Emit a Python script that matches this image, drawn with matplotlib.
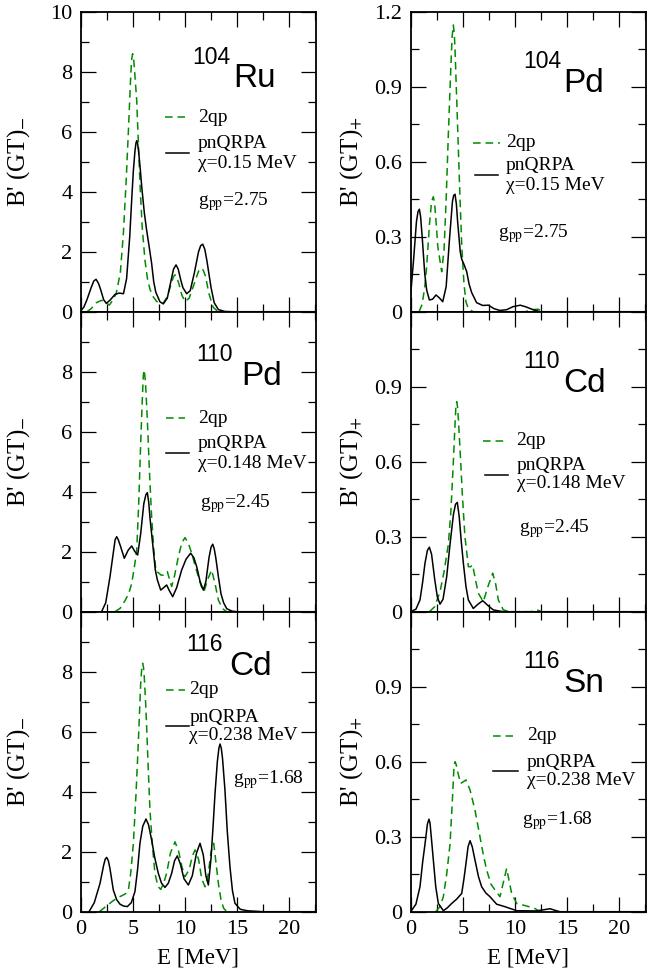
import matplotlib
matplotlib.use("Agg")
import matplotlib.pyplot as plt
from matplotlib.ticker import MultipleLocator, FixedLocator, FixedFormatter

# ---------------- data ----------------
# Panel 1: 104Ru, B'(GT)-
ru104_qrpa_E = [0.0, 0.3, 0.6, 1.0, 1.25, 1.47, 1.7, 1.9, 2.2, 2.45, 2.8, 3.3, 3.7, 4.1, 4.4, 4.7, 4.9, 5.05, 5.2, 5.3, 5.37, 5.45, 5.55, 5.7, 5.85, 6.1, 6.32, 6.55, 6.8, 7.0, 7.2, 7.6, 7.92, 8.3, 8.7, 8.9, 9.14, 9.35, 9.6, 9.8, 10.16, 10.5, 10.9, 11.3, 11.5, 11.7, 11.9, 12.1, 12.5, 12.8, 13.2, 13.8, 14.5, 22.5]
ru104_qrpa_B = [0.03, 0.15, 0.4, 0.8, 1.02, 1.08, 0.95, 0.75, 0.4, 0.28, 0.38, 0.58, 0.62, 0.6, 1.1, 2.5, 3.8, 4.7, 5.35, 5.62, 5.7, 5.62, 5.35, 4.8, 4.17, 3.3, 2.72, 2.2, 1.61, 1.0, 0.65, 0.33, 0.26, 0.45, 1.1, 1.42, 1.56, 1.42, 1.05, 0.8, 0.6, 0.7, 1.3, 2.0, 2.2, 2.25, 2.08, 1.7, 0.8, 0.3, 0.07, 0.01, 0.0, 0.0]
ru104_2qp_E = [0.6, 1.0, 1.5, 2.0, 2.4, 2.75, 3.1, 3.4, 3.8, 4.09, 4.35, 4.57, 4.8, 4.9, 4.98, 5.07, 5.15, 5.37, 5.52, 5.68, 5.9, 6.16, 6.4, 6.64, 6.95, 7.28, 7.9, 8.3, 8.7, 8.9, 9.04, 9.2, 9.4, 9.7, 10.0, 10.4, 10.9, 11.3, 11.5, 11.6, 11.75, 11.95, 12.3, 12.7, 13.1, 13.5]
ru104_2qp_B = [0.0, 0.1, 0.3, 0.38, 0.3, 0.22, 0.4, 0.6, 1.3, 2.6, 4.3, 6.0, 7.9, 8.45, 8.6, 8.45, 8.1, 7.05, 5.7, 4.28, 2.8, 1.72, 1.1, 0.75, 0.5, 0.34, 0.28, 0.5, 0.95, 1.17, 1.23, 1.15, 0.95, 0.55, 0.34, 0.45, 0.95, 1.35, 1.44, 1.45, 1.38, 1.2, 0.6, 0.15, 0.02, 0.0]

# Panel 2: 104Pd, B'(GT)+
pd104_qrpa_E = [0.0, 0.3, 0.55, 0.7, 0.83, 0.95, 1.1, 1.35, 1.53, 1.79, 2.1, 2.43, 2.75, 3.07, 3.4, 3.7, 4.0, 4.12, 4.25, 4.38, 4.5, 4.75, 4.89, 5.1, 5.37, 5.6, 5.85, 6.32, 6.9, 7.44, 8.0, 8.56, 9.2, 9.8, 10.5, 11.0, 11.8, 12.4, 22.5]
pd104_qrpa_B = [0.07, 0.22, 0.36, 0.40, 0.41, 0.38, 0.3, 0.15, 0.087, 0.047, 0.05, 0.067, 0.055, 0.04, 0.1, 0.28, 0.44, 0.465, 0.47, 0.43, 0.36, 0.24, 0.21, 0.19, 0.16, 0.11, 0.076, 0.036, 0.025, 0.026, 0.012, 0.005, 0.008, 0.02, 0.026, 0.02, 0.007, 0.0, 0.0]
pd104_2qp_E = [0.8, 1.1, 1.35, 1.53, 1.8, 2.0, 2.17, 2.3, 2.45, 2.6, 2.97, 3.2, 3.4, 3.61, 3.85, 3.97, 4.09, 4.18, 4.25, 4.41, 4.57, 4.73, 4.9, 5.11, 5.3, 5.53, 6.0, 11.0, 11.6, 12.2, 12.8]
pd104_2qp_B = [0.0, 0.03, 0.1, 0.18, 0.35, 0.44, 0.46, 0.43, 0.35, 0.26, 0.16, 0.25, 0.45, 0.71, 0.98, 1.1, 1.147, 1.11, 1.05, 0.85, 0.65, 0.45, 0.26, 0.11, 0.04, 0.01, 0.0, 0.0, 0.008, 0.01, 0.0]

# Panel 3: 110Pd, B'(GT)-
pd110_qrpa_E = [2.0, 2.4, 2.81, 3.1, 3.3, 3.45, 3.6, 3.8, 4.18, 4.55, 4.89, 5.2, 5.46, 5.75, 6.05, 6.25, 6.39, 6.52, 6.65, 6.96, 7.15, 7.35, 7.67, 7.95, 8.24, 8.5, 8.82, 9.2, 9.68, 10.1, 10.54, 10.85, 11.12, 11.45, 11.76, 12.0, 12.3, 12.5, 12.66, 12.8, 12.95, 13.2, 13.45, 13.7, 14.0, 14.5, 15.0, 22.5]
pd110_qrpa_B = [0.0, 0.3, 1.17, 1.9, 2.4, 2.5, 2.4, 2.2, 1.78, 2.05, 2.19, 2.0, 1.89, 2.6, 3.6, 3.9, 3.97, 3.65, 3.1, 2.06, 1.4, 1.06, 0.72, 0.8, 0.89, 0.7, 0.5, 0.8, 1.39, 1.75, 1.95, 1.8, 1.5, 1.0, 0.72, 1.0, 1.8, 2.15, 2.25, 2.1, 1.8, 1.17, 0.6, 0.3, 0.1, 0.02, 0.0, 0.0]
pd110_2qp_E = [3.3, 3.8, 4.25, 4.6, 4.89, 5.15, 5.37, 5.55, 5.75, 5.92, 6.0, 6.07, 6.14, 6.22, 6.39, 6.6, 6.8, 7.0, 7.22, 7.45, 7.7, 7.92, 8.1, 8.3, 8.5, 8.72, 9.0, 9.36, 9.7, 10.0, 10.3, 10.64, 11.0, 11.28, 11.55, 11.82, 12.2, 12.56, 12.9, 13.2, 13.6, 14.0]
pd110_2qp_B = [0.0, 0.12, 0.37, 0.6, 0.94, 1.5, 2.05, 3.5, 5.6, 7.2, 7.85, 8.06, 7.9, 7.6, 6.39, 4.6, 3.17, 2.1, 1.34, 1.3, 1.22, 1.22, 1.3, 1.34, 1.1, 0.84, 1.2, 1.83, 2.3, 2.47, 2.3, 1.95, 1.5, 1.17, 0.85, 0.67, 1.1, 1.39, 0.9, 0.39, 0.1, 0.0]

# Panel 4: 110Cd, B'(GT)+
cd110_qrpa_E = [0.0, 0.5, 0.89, 1.15, 1.37, 1.6, 1.79, 2.0, 2.3, 2.55, 2.81, 3.1, 3.45, 3.77, 4.1, 4.3, 4.47, 4.65, 4.85, 5.05, 5.3, 5.53, 6.0, 6.45, 6.9, 7.4, 7.92, 8.9, 22.5]
cd110_qrpa_B = [0.0, 0.01, 0.047, 0.12, 0.194, 0.245, 0.258, 0.23, 0.13, 0.06, 0.03, 0.05, 0.14, 0.27, 0.39, 0.43, 0.437, 0.38, 0.28, 0.194, 0.1, 0.047, 0.013, 0.03, 0.044, 0.025, 0.007, 0.0, 0.0]
cd110_2qp_E = [1.8, 2.3, 2.81, 3.2, 3.61, 3.85, 4.09, 4.25, 4.33, 4.41, 4.49, 4.57, 4.73, 4.95, 5.2, 5.53, 5.75, 5.94, 6.2, 6.48, 6.96, 7.4, 7.86, 8.15, 8.4, 8.88, 9.5, 11.5, 12.1, 12.6]
cd110_2qp_B = [0.0, 0.02, 0.08, 0.16, 0.27, 0.4, 0.6, 0.75, 0.82, 0.84, 0.82, 0.77, 0.65, 0.47, 0.3, 0.18, 0.18, 0.187, 0.13, 0.074, 0.04, 0.1, 0.154, 0.11, 0.047, 0.007, 0.0, 0.0, 0.007, 0.0]

# Panel 5: 116Cd, B'(GT)-
cd116_qrpa_E = [0.8, 1.3, 1.85, 2.2, 2.35, 2.49, 2.65, 2.8, 3.13, 3.45, 3.77, 4.1, 4.47, 4.85, 5.2, 5.45, 5.68, 5.95, 6.26, 6.5, 6.8, 7.1, 7.44, 7.75, 8.08, 8.4, 8.72, 9.0, 9.26, 9.55, 9.9, 10.32, 10.7, 11.1, 11.44, 11.75, 12.0, 12.24, 12.5, 12.7, 12.88, 13.1, 13.25, 13.36, 13.48, 13.6, 13.83, 14.05, 14.31, 14.55, 14.79, 15.3, 16.0, 16.55, 17.5, 22.5]
cd116_qrpa_B = [0.0, 0.3, 0.94, 1.55, 1.75, 1.81, 1.7, 1.45, 0.72, 0.4, 0.25, 0.19, 0.17, 0.3, 0.67, 1.4, 2.28, 2.85, 3.09, 2.9, 2.39, 1.8, 1.28, 0.95, 0.81, 0.95, 1.28, 1.7, 1.86, 1.6, 1.1, 0.89, 1.2, 1.95, 2.28, 1.9, 1.2, 0.89, 1.8, 2.9, 3.95, 5.0, 5.45, 5.59, 5.45, 5.1, 4.06, 2.7, 1.5, 0.7, 0.28, 0.08, 0.03, 0.02, 0.0, 0.0]
cd116_2qp_E = [1.8, 2.5, 3.13, 3.6, 3.93, 4.3, 4.57, 4.8, 5.05, 5.3, 5.52, 5.75, 5.85, 5.94, 6.02, 6.1, 6.26, 6.45, 6.64, 6.9, 7.12, 7.4, 7.67, 7.95, 8.24, 8.6, 9.04, 9.4, 9.7, 10.0, 10.4, 10.7, 10.96, 11.3, 11.6, 11.92, 12.2, 12.5, 12.75, 12.95, 13.2, 13.45, 13.7, 14.0]
cd116_2qp_B = [0.0, 0.2, 0.37, 0.48, 0.53, 0.6, 0.72, 1.3, 2.28, 3.9, 5.6, 7.6, 8.1, 8.28, 8.15, 7.8, 6.72, 5.0, 3.39, 2.1, 1.28, 0.85, 0.74, 0.95, 1.28, 1.95, 2.33, 2.0, 1.5, 1.17, 1.4, 1.85, 2.06, 1.75, 1.1, 0.83, 1.2, 2.0, 2.28, 1.7, 0.94, 0.4, 0.12, 0.0]

# Panel 6: 116Sn, B'(GT)+
sn116_qrpa_E = [0.0, 0.5, 0.89, 1.15, 1.37, 1.6, 1.75, 1.85, 1.95, 2.17, 2.4, 2.65, 3.13, 3.5, 3.93, 4.4, 4.89, 5.1, 5.3, 5.5, 5.69, 5.9, 6.16, 6.5, 6.8, 7.2, 7.6, 8.24, 9.04, 10.16, 12.0, 12.8, 13.35, 13.8, 14.3, 22.5]
sn116_qrpa_B = [0.0, 0.03, 0.1, 0.2, 0.27, 0.35, 0.37, 0.355, 0.31, 0.207, 0.1, 0.033, 0.004, 0.015, 0.033, 0.05, 0.073, 0.13, 0.193, 0.26, 0.284, 0.26, 0.207, 0.14, 0.1, 0.075, 0.06, 0.03, 0.02, 0.004, 0.003, 0.008, 0.012, 0.006, 0.0, 0.0]
sn116_2qp_E = [2.4, 2.8, 3.13, 3.45, 3.77, 4.0, 4.15, 4.25, 4.35, 4.5, 4.79, 5.05, 5.3, 5.69, 6.16, 6.64, 7.0, 7.28, 7.7, 8.08, 8.56, 8.9, 9.2, 9.45, 9.68, 10.16, 11.1, 11.9, 12.4]
sn116_2qp_B = [0.0, 0.02, 0.06, 0.15, 0.27, 0.45, 0.58, 0.6, 0.59, 0.56, 0.513, 0.52, 0.527, 0.487, 0.407, 0.3, 0.22, 0.167, 0.11, 0.087, 0.06, 0.12, 0.173, 0.12, 0.073, 0.033, 0.023, 0.013, 0.0]

mass_numbers = ["104", "104", "110", "110", "116", "116"]
elements = ["Ru", "Pd", "Pd", "Cd", "Cd", "Sn"]
chi_labels = ["\u03c7=0.15 MeV", "\u03c7=0.15 MeV", "\u03c7=0.148 MeV", "\u03c7=0.148 MeV",
              "\u03c7=0.238 MeV", "\u03c7=0.238 MeV"]
gpp_values = ["2.75", "2.75", "2.45", "2.45", "1.68", "1.68"]
legend_2qp = "2qp"
legend_qrpa = "pnQRPA"
ylabels = ["B' (GT)$_{-}$", "B' (GT)$_{+}$"]
xlabel = "E [MeV]"
x_ticks = [0, 5, 10, 15, 20]
left_ticks = [0, 2, 4, 6, 8, 10]
right_ticks = [0, 0.3, 0.6, 0.9, 1.2]
right_ticklabels = ["0", "0.3", "0.6", "0.9", "1.2"]

panels = [
    (ru104_2qp_E, ru104_2qp_B, ru104_qrpa_E, ru104_qrpa_B),
    (pd104_2qp_E, pd104_2qp_B, pd104_qrpa_E, pd104_qrpa_B),
    (pd110_2qp_E, pd110_2qp_B, pd110_qrpa_E, pd110_qrpa_B),
    (cd110_2qp_E, cd110_2qp_B, cd110_qrpa_E, cd110_qrpa_B),
    (cd116_2qp_E, cd116_2qp_B, cd116_qrpa_E, cd116_qrpa_B),
    (sn116_2qp_E, sn116_2qp_B, sn116_qrpa_E, sn116_qrpa_B),
]

# ---------------- layout / style ----------------
SERIF = "Liberation Serif"
SANS = "Liberation Sans"
GREEN = "#008c00"
W, H = 658, 974
fig = plt.figure(figsize=(W / 100, H / 100), dpi=100)

ax_w = 235.3 / W
ax_h = 300.0 / H
lefts = [80.7 / W, 410.7 / W]
bottoms = [(974 - 311.7) / H, (974 - 611.7) / H, (974 - 911.7) / H]

leg_pos = [
    dict(dx=(0.358, 0.443), dy=0.648, tx=0.497, sx=(0.361, 0.460), sy=0.53, qy=0.561, cy=0.494, gx=0.497, gy=0.367),
    dict(dx=(0.266, 0.380), dy=0.563, tx=0.405, sx=(0.273, 0.372), sy=0.456, qy=0.486, cy=0.422, gx=0.373, gy=0.262),
    dict(dx=(0.361, 0.443), dy=0.645, tx=0.497, sx=(0.361, 0.460), sy=0.53, qy=0.561, cy=0.494, gx=0.507, gy=0.361),
    dict(dx=(0.309, 0.415), dy=0.570, tx=0.450, sx=(0.316, 0.415), sy=0.456, qy=0.489, cy=0.428, gx=0.462, gy=0.278),
    dict(dx=(0.361, 0.443), dy=0.739, tx=0.462, sx=(0.361, 0.460), sy=0.62, qy=0.648, cy=0.586, gx=0.646, gy=0.439),
    dict(dx=(0.348, 0.436), dy=0.586, tx=0.493, sx=(0.351, 0.457), sy=0.469, qy=0.497, cy=0.437, gx=0.472, gy=0.303),
]
nuc_pos = [
    (0.472, 0.647, 0.748),
    (0.479, 0.649, 0.733),
    (0.493, 0.684, 0.756),
    (0.479, 0.649, 0.733),
    (0.450, 0.632, 0.789),
    (0.479, 0.649, 0.733),
]

TICK_FS = 16
LEG_FS = 14

for i, (gE, gB, qE, qB) in enumerate(panels):
    row, col = divmod(i, 2)
    ax = fig.add_axes([lefts[col], bottoms[row], ax_w, ax_h])
    ax.plot(gE, gB, color=GREEN, lw=1.1, dashes=[5, 3.2])
    ax.plot(qE, qB, color="black", lw=1.1)
    ax.set_xlim(0, 22.56)
    if col == 0:
        ax.set_ylim(0, 10)
        ax.yaxis.set_major_locator(FixedLocator(left_ticks))
        ax.yaxis.set_minor_locator(MultipleLocator(1))
        labels = [str(t) for t in left_ticks]
    else:
        ax.set_ylim(0, 1.2)
        ax.yaxis.set_major_locator(FixedLocator(right_ticks))
        ax.yaxis.set_minor_locator(MultipleLocator(0.15))
        labels = list(right_ticklabels)
    if row > 0:
        labels[-1] = ""
    ax.yaxis.set_major_formatter(FixedFormatter(labels))
    ax.xaxis.set_major_locator(FixedLocator(x_ticks))
    ax.xaxis.set_minor_locator(MultipleLocator(2.5))
    ax.tick_params(which="both", direction="in", top=True, right=True,
                   labelsize=TICK_FS, width=0.9, pad=6)
    ax.tick_params(which="major", length=11)
    ax.tick_params(which="minor", length=5.5)
    if row < 2:
        ax.tick_params(labelbottom=False)
    else:
        ax.set_xticklabels([str(t) for t in x_ticks])
        ax.set_xlabel(xlabel, fontsize=16.5, family=SERIF, labelpad=6)
    for lab in ax.get_xticklabels() + ax.get_yticklabels():
        lab.set_family(SERIF)
    for sp in ax.spines.values():
        sp.set_linewidth(1.3)

    ax.set_ylabel(ylabels[col], fontsize=18, family=SERIF, math_fontfamily="stix")
    ax.yaxis.set_label_coords(-0.207 if col == 0 else -0.194, 0.5)

    p = leg_pos[i]
    ax.plot(p["dx"], [p["dy"], p["dy"]], transform=ax.transAxes, color=GREEN,
            lw=1.1, dashes=[5, 3.2], clip_on=False)
    ax.text(p["tx"], p["dy"], legend_2qp, transform=ax.transAxes, fontsize=LEG_FS,
            family=SERIF, va="center", ha="left")
    ax.plot(p["sx"], [p["sy"], p["sy"]], transform=ax.transAxes, color="black",
            lw=1.1, clip_on=False)
    ax.text(p["tx"], p["qy"], legend_qrpa, transform=ax.transAxes, fontsize=LEG_FS,
            family=SERIF, va="center", ha="left")
    ax.text(p["tx"], p["cy"], chi_labels[i], transform=ax.transAxes, fontsize=LEG_FS,
            family=SERIF, va="center", ha="left")
    ax.text(p["gx"], p["gy"], "g$_{\\mathrm{pp}}$=" + gpp_values[i], transform=ax.transAxes,
            fontsize=LEG_FS, family=SERIF, math_fontfamily="stix", va="center", ha="left")

    sx, ex, by = nuc_pos[i]
    ax.text(sx, by + 0.079, mass_numbers[i], transform=ax.transAxes, fontsize=16.5,
            family=SANS, va="baseline", ha="left")
    ax.text(ex, by, elements[i], transform=ax.transAxes, fontsize=24,
            family=SANS, va="baseline", ha="left")

fig.savefig("out.png", dpi=100)
